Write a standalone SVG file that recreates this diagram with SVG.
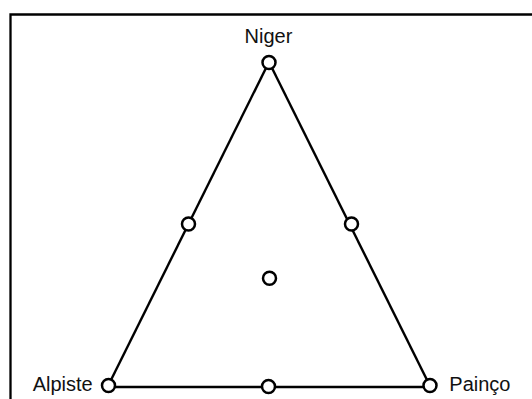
<svg xmlns="http://www.w3.org/2000/svg" width="532" height="399" viewBox="0 0 532 399">
<style>
.t{font-family:"Liberation Sans",Arial,sans-serif;font-size:20px;fill:#111}
.n{fill:#fff;stroke:#000;stroke-width:2.5}
.e{stroke:#000;stroke-width:2.4;fill:none}
</style>
<rect width="532" height="399" fill="#fff"/>
<g id="frame"><path d="M10.5 399 V14.5 H532" fill="none" stroke="#000" stroke-width="2.3"/></g>
<g id="connectors">
<line class="e" x1="269" y1="62" x2="108" y2="386"/>
<line class="e" x1="269" y1="62" x2="430" y2="386"/>
<line class="e" x1="108" y1="387" x2="430" y2="387"/>
</g>
<g id="niger"><circle class="n" cx="269" cy="62.5" r="6.5"/><text class="t" x="268.5" y="42.5" text-anchor="middle">Niger</text></g>
<g id="alpiste"><circle class="n" cx="108.5" cy="385.5" r="6.5"/><text class="t" x="92.7" y="391" text-anchor="end">Alpiste</text></g>
<g id="painco"><circle class="n" cx="430" cy="385.5" r="6.5"/><text class="t" x="449.3" y="391">Painço</text></g>
<g id="mid-left"><circle class="n" cx="188.5" cy="224" r="6.5"/></g>
<g id="mid-right"><circle class="n" cx="351.5" cy="224" r="6.5"/></g>
<g id="mid-bottom"><circle class="n" cx="268.5" cy="386.5" r="6.5"/></g>
<g id="center"><circle class="n" cx="269.5" cy="278.3" r="6.5"/></g>
</svg>
